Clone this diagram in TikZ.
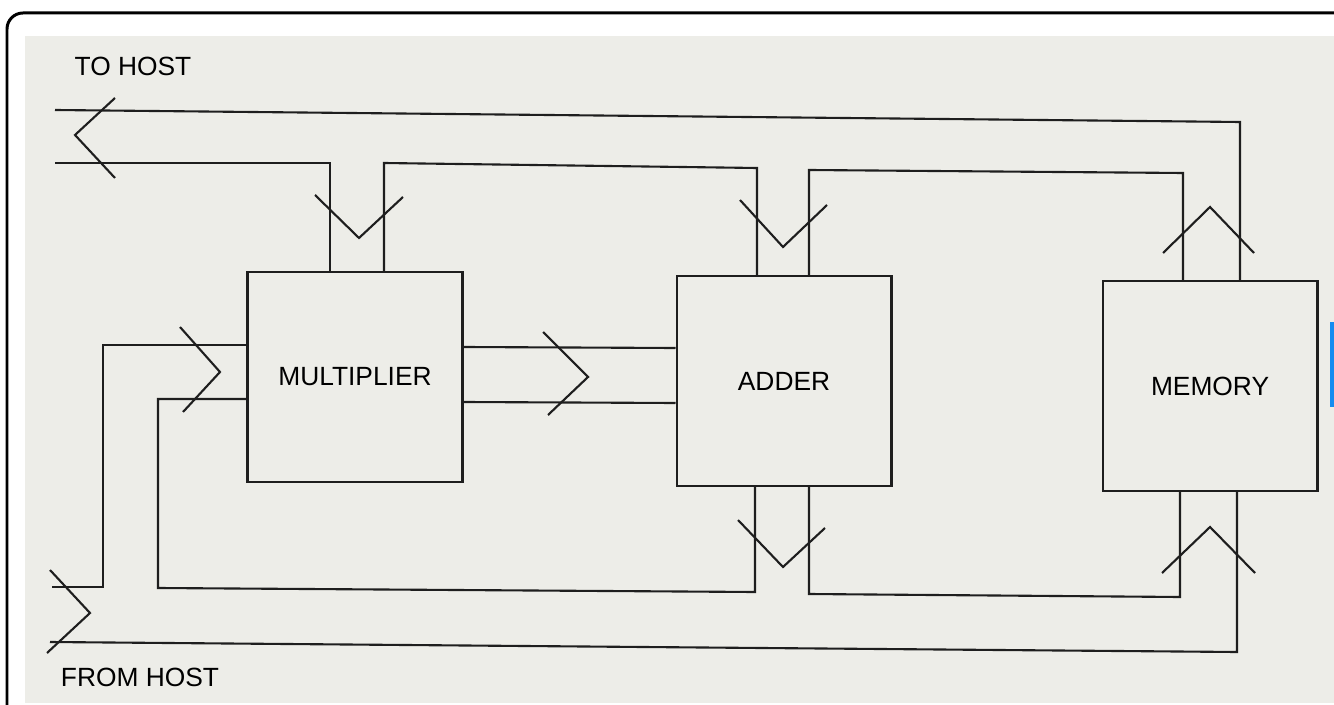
\documentclass[tikz,border=0pt]{standalone}
\usepackage{fontspec}
\setsansfont{Liberation Sans}
\usetikzlibrary{positioning}

\definecolor{scangray}{RGB}{237,237,232}
\definecolor{ink}{RGB}{30,30,30}
\definecolor{markblue}{RGB}{20,140,240}

\begin{document}
\begin{tikzpicture}[x=0.02cm, y=-0.02cm,
  blk/.style={draw=ink, line width=1.2pt, minimum width=4.3cm, minimum height=4.2cm,
              inner sep=0pt, font=\sffamily\fontsize{15}{18}\selectfont},
  lbl/.style={inner sep=0pt, font=\sffamily\fontsize{15}{18}\selectfont},
  bus/.style={draw=ink, line width=1.2pt},
  chev/.style={draw=ink, line width=1.2pt}]
  \useasboundingbox (0,0) rectangle (1334,705);
  \fill[white] (0,0) rectangle (1334,705);
  \fill[scangray] (25,36) rectangle (1334,703);
  \fill[markblue] (1330,322) rectangle (1334,407);
  \draw[line width=1.7pt, rounded corners=0.32cm] (7,13) rectangle (1400,760);

  \node[blk] (mul) at (355,377) {MULTIPLIER};
  \node[blk, right=4.24cm of mul, yshift=-0.08cm] (add) {ADDER};
  \node[blk, right=4.18cm of add, yshift=-0.1cm] (mem) {MEMORY};
  \node[lbl] (tohost) at (133,66) {TO HOST};
  \node[lbl] (fromhost) at (140,677) {FROM HOST};

  \coordinate (th1) at (55,110);
  \coordinate (th2) at (55,163);
  \coordinate (fh1) at (52,587);
  \coordinate (fh2) at (50,642);

  % bus to host
  \draw[bus] (th1) -- (1240,122) -- (mem.north -| 1240,0);
  \draw[bus] (th2) -| (mul.north -| 330,0);
  \draw[bus] (mul.north -| 384,0) -- (384,163) -- (757,168) -- (add.north -| 757,0);
  \draw[bus] (add.north -| 809,0) -- (809,170) -- (1183,173) -- (mem.north -| 1183,0);
  % multiplier -> adder
  \draw[bus] (mul.east |- 0,347) -- (add.west |- 0,348);
  \draw[bus] (mul.east |- 0,402) -- (add.west |- 0,403);
  % bus from host
  \draw[bus] (fh1) -| (103,345) -- (mul.west |- 0,345);
  \draw[bus] (mul.west |- 0,399) -| (158,588) -- (755,592) -- (add.south -| 755,0);
  \draw[bus] (add.south -| 809,0) -- (809,594) -- (1180,597) -- (mem.south -| 1180,0);
  \draw[bus] (fh2) -- (1237,652) -- (mem.south -| 1237,0);

  % open heads on the buses
  \draw[chev] (115,98) -- (75,135) -- (115,178);
  \draw[chev] (315,195) -- (359,238) -- (403,197);
  \draw[chev] (740,200) -- (783,247) -- (827,205);
  \draw[chev] (1163,253) -- (1210,207) -- (1254,253);
  \draw[chev] (543,332) -- (588,377) -- (548,415);
  \draw[chev] (50,570) -- (90,613) -- (47,653);
  \draw[chev] (180,327) -- (220,372) -- (183,412);
  \draw[chev] (738,520) -- (783,567) -- (825,528);
  \draw[chev] (1162,573) -- (1210,527) -- (1255,573);
\end{tikzpicture}
\end{document}
